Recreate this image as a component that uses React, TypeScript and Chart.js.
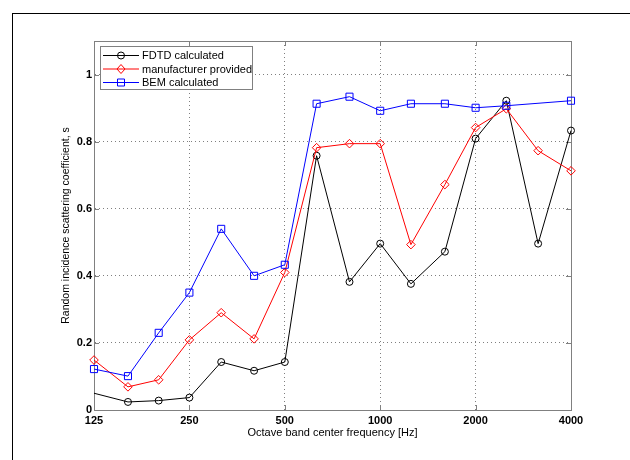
import { useEffect, useRef } from "react";
import { Chart, registerables } from "chart.js";

Chart.register(...registerables);

const frequencies = [125, 160, 200, 250, 315, 400, 500, 630, 800, 1000, 1250, 1600, 2000, 2500, 3150, 4000];
const fdtdCalculated = [0.05, 0.024, 0.028, 0.037, 0.143, 0.117, 0.143, 0.758, 0.382, 0.496, 0.376, 0.472, 0.809, 0.922, 0.496, 0.833];
const manufacturerProvided = [0.149, 0.069, 0.09, 0.209, 0.29, 0.212, 0.41, 0.782, 0.794, 0.794, 0.493, 0.672, 0.842, 0.898, 0.773, 0.713];
const bemCalculated = [0.122, 0.101, 0.23, 0.35, 0.54, 0.4, 0.433, 0.913, 0.934, 0.892, 0.913, 0.913, 0.901, 0.907, null, 0.922];
const seriesNames = ["FDTD calculated", "manufacturer provided", "BEM calculated"];
const xTickValues = [125, 250, 500, 1000, 2000, 4000];
const yTickValues = [0, 0.2, 0.4, 0.6, 0.8, 1];
const xAxisTitle = "Octave band center frequency [Hz]";
const yAxisTitle = "Random incidence scattering coefficient, s";

const FONT = '"Liberation Sans", Arial, Helvetica, sans-serif';
const AXIS_COLOR = "#808080";

function drawMarker(ctx: CanvasRenderingContext2D, style: string, x: number, y: number, color: string) {
  ctx.save();
  ctx.strokeStyle = color;
  ctx.lineWidth = 1;
  ctx.beginPath();
  if (style === "circle") {
    ctx.arc(x, y, 3.5, 0, Math.PI * 2);
  } else if (style === "rectRot") {
    ctx.moveTo(x - 4, y);
    ctx.lineTo(x, y - 4.5);
    ctx.lineTo(x + 4, y);
    ctx.lineTo(x, y + 4.5);
    ctx.closePath();
  } else {
    ctx.rect(x - 3.5, y - 3.5, 7, 7);
  }
  ctx.stroke();
  ctx.restore();
}

const frameTicksPlugin = {
  id: "frameTicks",
  beforeDatasetsDraw(chart: any) {
    const { ctx, chartArea } = chart;
    const { left, right, top, bottom } = chartArea;
    ctx.save();
    ctx.strokeStyle = AXIS_COLOR;
    ctx.lineWidth = 1;
    ctx.beginPath();
    ctx.moveTo(left, top + 0.5);
    ctx.lineTo(right, top + 0.5);
    ctx.moveTo(right + 0.5, top);
    ctx.lineTo(right + 0.5, bottom);
    const xs = chart.scales.x;
    const ys = chart.scales.y;
    xTickValues.forEach((v) => {
      const px = Math.round(xs.getPixelForValue(v)) + 0.5;
      ctx.moveTo(px, bottom);
      ctx.lineTo(px, bottom - 5);
      ctx.moveTo(px, top);
      ctx.lineTo(px, top + 5);
    });
    yTickValues.forEach((v) => {
      const py = Math.round(ys.getPixelForValue(v)) + 0.5;
      ctx.moveTo(left, py);
      ctx.lineTo(left + 5, py);
      ctx.moveTo(right, py);
      ctx.lineTo(right - 5, py);
    });
    ctx.stroke();
    ctx.restore();
  },
};

const legendPlugin = {
  id: "matlabLegend",
  afterDraw(chart: any) {
    const { ctx, chartArea } = chart;
    const x0 = Math.round(chartArea.left) + 6;
    const y0 = Math.round(chartArea.top) + 5;
    const w = 152;
    const h = 43;
    ctx.save();
    ctx.fillStyle = "#ffffff";
    ctx.fillRect(x0, y0, w, h);
    ctx.strokeStyle = AXIS_COLOR;
    ctx.lineWidth = 1;
    ctx.strokeRect(x0 + 0.5, y0 + 0.5, w, h);
    chart.data.datasets.forEach((ds: any, i: number) => {
      const y = y0 + 9.5 + i * 13.5;
      ctx.strokeStyle = ds.borderColor;
      ctx.beginPath();
      ctx.moveTo(x0 + 3, y);
      ctx.lineTo(x0 + 39, y);
      ctx.stroke();
      drawMarker(ctx, ds.pointStyle, x0 + 21, y, ds.borderColor);
      ctx.fillStyle = "#000";
      ctx.font = `11px ${FONT}`;
      ctx.textBaseline = "middle";
      ctx.textAlign = "left";
      ctx.fillText(ds.label, x0 + 42, y + 0.5);
    });
    ctx.restore();
  },
};

export default function App() {
  const canvasRef = useRef<HTMLCanvasElement | null>(null);

  useEffect(() => {
    if (!canvasRef.current) return;
    const toPoints = (arr: (number | null)[]) => frequencies.map((f, i) => ({ x: f, y: arr[i] }));
    const chart = new Chart(canvasRef.current, {
      type: "line",
      data: {
        datasets: [
          {
            label: seriesNames[0],
            data: toPoints(fdtdCalculated),
            borderColor: "#000000",
            backgroundColor: "rgba(0,0,0,0)",
            borderWidth: 1,
            pointStyle: "circle",
            pointRadius: frequencies.map((_, i) => (i === 0 ? 0 : 3.5)),
            pointBorderWidth: 1,
            pointBackgroundColor: "rgba(0,0,0,0)",
            tension: 0,
            clip: false,
            order: 2,
          },
          {
            label: seriesNames[1],
            data: toPoints(manufacturerProvided),
            borderColor: "#ff0000",
            backgroundColor: "rgba(0,0,0,0)",
            borderWidth: 1,
            pointStyle: "rectRot",
            pointRadius: 4.3,
            pointBorderWidth: 1,
            pointBackgroundColor: "rgba(0,0,0,0)",
            tension: 0,
            clip: false,
            order: 1,
          },
          {
            label: seriesNames[2],
            data: toPoints(bemCalculated),
            borderColor: "#0000ff",
            backgroundColor: "rgba(0,0,0,0)",
            borderWidth: 1,
            pointStyle: "rect",
            pointRadius: 5,
            pointBorderWidth: 1,
            pointBackgroundColor: "rgba(0,0,0,0)",
            tension: 0,
            spanGaps: true,
            clip: false,
            order: 0,
          },
        ],
      } as any,
      options: {
        animation: false,
        responsive: false,
        maintainAspectRatio: false,
        devicePixelRatio: 1,
        layout: { padding: { left: 44, top: 41, right: 59, bottom: 10 } },
        plugins: {
          legend: { display: false },
          tooltip: { enabled: false },
        },
        scales: {
          x: {
            type: "logarithmic",
            min: 125,
            max: 4000,
            afterBuildTicks: (scale: any) => {
              scale.ticks = xTickValues.map((v) => ({ value: v }));
            },
            afterFit: (scale: any) => {
              scale.height = 40;
            },
            ticks: {
              autoSkip: false,
              maxRotation: 0,
              padding: 4,
              color: "#000",
              font: { family: FONT, size: 11, weight: "bold" },
              callback: (v: any) => String(v),
            },
            grid: { color: "rgba(0,0,0,0.5)", drawTicks: false, lineWidth: 1 },
            border: { display: true, color: AXIS_COLOR, width: 1, dash: [1, 3] },
            title: {
              display: true,
              text: xAxisTitle,
              color: "#000",
              font: { family: FONT, size: 11 },
              padding: { top: 0, bottom: 10 },
            },
          },
          y: {
            type: "linear",
            min: 0,
            max: 1.1,
            afterBuildTicks: (scale: any) => {
              scale.ticks = yTickValues.map((v) => ({ value: v }));
            },
            afterFit: (scale: any) => {
              scale.width = 50;
            },
            ticks: {
              padding: 2,
              color: "#000",
              font: { family: FONT, size: 11, weight: "bold" },
              callback: (v: any) => String(Math.round(Number(v) * 10) / 10),
            },
            grid: { color: "rgba(0,0,0,0.5)", drawTicks: false, lineWidth: 1 },
            border: { display: true, color: AXIS_COLOR, width: 1, dash: [1, 3] },
            title: {
              display: true,
              text: yAxisTitle,
              color: "#000",
              font: { family: FONT, size: 10.5 },
              padding: { top: 16, bottom: 0 },
            },
          },
        },
      } as any,
      plugins: [frameTicksPlugin, legendPlugin],
    });
    return () => chart.destroy();
  }, []);

  return (
    <div style={{ position: "fixed", left: 0, top: 0, width: 630, height: 460, background: "#fff", overflow: "hidden" }}>
      <div
        style={{
          position: "absolute",
          left: 12,
          top: 13,
          width: 700,
          height: 600,
          borderLeft: "1px solid #000",
          borderTop: "1px solid #000",
        }}
      />
      <canvas ref={canvasRef} width={630} height={460} style={{ position: "absolute", left: 0, top: 0, width: 630, height: 460 }} />
    </div>
  );
}
